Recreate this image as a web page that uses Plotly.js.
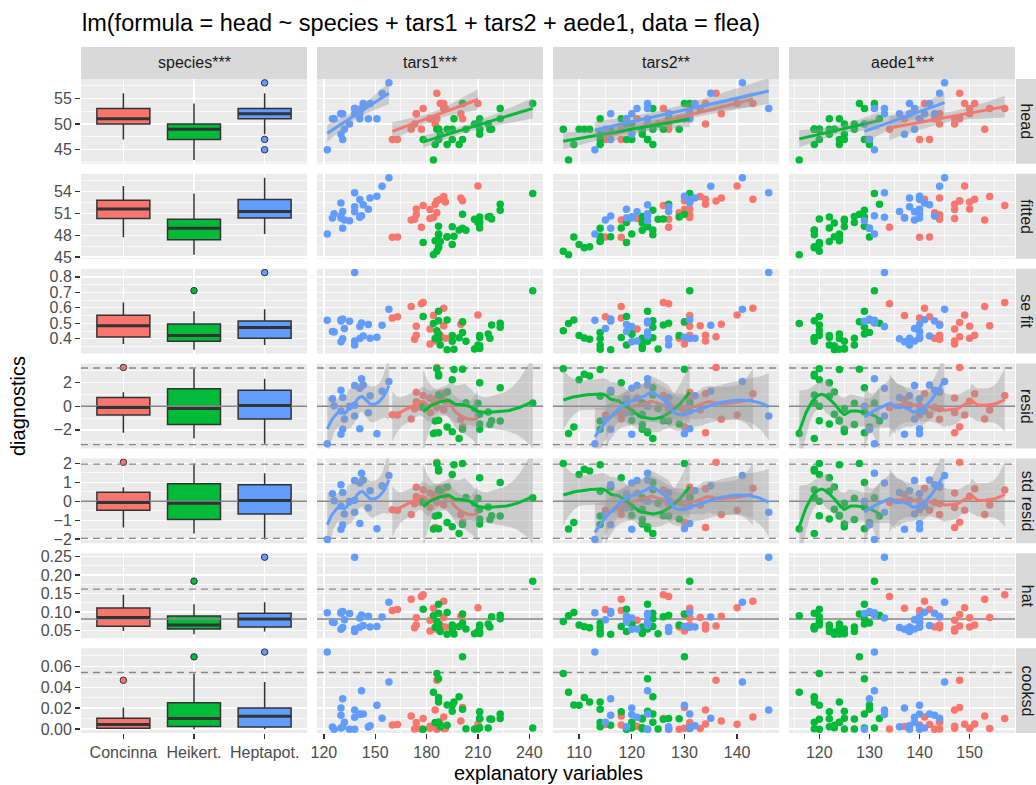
<!DOCTYPE html>
<html><head><meta charset="utf-8">
<script src="https://cdn.plot.ly/plotly-3.0.1.min.js"></script>
<style>body{margin:0;background:#fff}#chart{width:1036px;height:785px}</style>
</head><body><div id="chart"></div>
<script>
// ---------------- data (flea) ----------------
const speciesLevels = ['Concinna', 'Heikert.', 'Heptapot.'];
const speciesColors = ['#F8766D', '#00BA38', '#619CFF'];
const columnLabels = ['species***', 'tars1***', 'tars2**', 'aede1***'];
const rowLabels = ['head', 'fitted', 'se fit', 'resid', 'std resid', 'hat', 'cooksd'];

const species = [
 'Concinna','Concinna','Concinna','Concinna','Concinna','Concinna','Concinna','Concinna','Concinna','Concinna',
 'Concinna','Concinna','Concinna','Concinna','Concinna','Concinna','Concinna','Concinna','Concinna','Concinna','Concinna',
 'Heikert.','Heikert.','Heikert.','Heikert.','Heikert.','Heikert.','Heikert.','Heikert.','Heikert.','Heikert.',
 'Heikert.','Heikert.','Heikert.','Heikert.','Heikert.','Heikert.','Heikert.','Heikert.','Heikert.','Heikert.',
 'Heikert.','Heikert.','Heikert.','Heikert.','Heikert.','Heikert.','Heikert.','Heikert.','Heikert.','Heikert.','Heikert.',
 'Heptapot.','Heptapot.','Heptapot.','Heptapot.','Heptapot.','Heptapot.','Heptapot.','Heptapot.','Heptapot.','Heptapot.',
 'Heptapot.','Heptapot.','Heptapot.','Heptapot.','Heptapot.','Heptapot.','Heptapot.','Heptapot.','Heptapot.','Heptapot.','Heptapot.','Heptapot.'
];
const tars1 = [
 191,185,200,173,171,160,188,186,174,163,190,174,201,190,182,184,177,178,210,182,186,
 186,211,201,242,184,211,217,223,208,199,211,218,203,192,195,211,187,192,223,188,216,185,178,187,187,201,187,210,196,195,187,
 158,146,151,122,138,132,131,135,125,130,130,138,130,143,154,147,141,131,142,141,138,126
];
const tars2 = [
 131,134,137,127,118,118,134,129,131,115,143,131,130,133,130,131,127,126,140,121,136,
 107,122,114,131,108,118,122,127,125,124,129,126,122,116,123,122,123,109,124,114,120,114,119,111,112,130,120,119,114,110,124,
 141,119,130,113,121,115,127,123,119,120,131,127,116,123,135,132,131,116,123,120,146,123
];
const head = [
 53,50,52,50,49,47,54,51,52,47,54,52,51,53,51,51,49,53,54,51,56,
 49,49,47,54,43,51,49,51,50,46,49,49,49,49,47,48,47,46,53,48,50,46,47,49,49,54,47,50,51,49,49,
 58,51,51,45,53,49,52,50,51,48,52,52,52,54,56,54,51,47,53,52,53,51
];
const aede1 = [
 150,147,144,144,153,140,151,143,144,142,141,150,148,154,147,137,134,157,149,147,148,
 120,123,130,131,116,122,127,132,125,119,122,120,119,123,125,125,129,130,129,122,129,124,120,119,119,128,124,127,124,120,119,
 145,140,140,131,139,139,136,129,140,137,141,138,143,142,144,138,140,130,131,133,133,140
];

// ---------------- helpers ----------------
function invert(A) {
  const m = A.length;
  const M = A.map((row, i) => row.concat(A.map((_, j) => (i === j ? 1 : 0))));
  for (let c = 0; c < m; c++) {
    let piv = c;
    for (let r = c + 1; r < m; r++) if (Math.abs(M[r][c]) > Math.abs(M[piv][c])) piv = r;
    const tmp = M[c]; M[c] = M[piv]; M[piv] = tmp;
    const d = M[c][c];
    for (let j = 0; j < 2 * m; j++) M[c][j] /= d;
    for (let r = 0; r < m; r++) if (r !== c) {
      const f = M[r][c];
      if (f !== 0) for (let j = 0; j < 2 * m; j++) M[r][j] -= f * M[c][j];
    }
  }
  return M.map(row => row.slice(m));
}
function qt975(df) {
  const z = 1.959963985;
  const g1 = (z ** 3 + z) / 4;
  const g2 = (5 * z ** 5 + 16 * z ** 3 + 3 * z) / 96;
  const g3 = (3 * z ** 7 + 19 * z ** 5 + 17 * z ** 3 - 15 * z) / 384;
  const g4 = (79 * z ** 9 + 776 * z ** 7 + 1482 * z ** 5 - 1920 * z ** 3 - 945 * z) / 92160;
  return z + g1 / df + g2 / df ** 2 + g3 / df ** 3 + g4 / df ** 4;
}
function quantile7(arr, pr) {
  const s = arr.slice().sort((a, b) => a - b);
  const h = (s.length - 1) * pr, lo = Math.floor(h), hi = Math.ceil(h);
  return s[lo] + (h - lo) * (s[hi] - s[lo]);
}
function padRange(vals) {
  const mn = Math.min(...vals), mx = Math.max(...vals), e = (mx - mn) * 0.05;
  return [mn - e, mx + e];
}
function evalGrid(x) {
  const mn = Math.min(...x), mx = Math.max(...x), g = [];
  for (let i = 0; i < 80; i++) g.push(mn + (mx - mn) * i / 79);
  return g;
}
function lmSmooth(x, y) {
  const n = x.length;
  const xm = x.reduce((a, b) => a + b, 0) / n, ym = y.reduce((a, b) => a + b, 0) / n;
  let sxx = 0, sxy = 0;
  x.forEach((v, i) => { sxx += (v - xm) ** 2; sxy += (v - xm) * (y[i] - ym); });
  const b = sxy / sxx, a = ym - b * xm;
  let rss = 0; x.forEach((v, i) => { rss += (y[i] - a - b * v) ** 2; });
  const s = Math.sqrt(rss / (n - 2)), t = qt975(n - 2);
  const g = evalGrid(x);
  const fit = g.map(v => a + b * v);
  const se = g.map(v => s * Math.sqrt(1 / n + (v - xm) ** 2 / sxx));
  return { g, fit, lo: fit.map((f, i) => f - t * se[i]), hi: fit.map((f, i) => f + t * se[i]) };
}
function loessRow(x, x0, span) {
  const n = x.length, q = Math.floor(n * span);
  const d = x.map(v => Math.abs(v - x0));
  const ds = d.slice().sort((a, b) => a - b);
  let h = ds[q - 1]; if (h <= 0) h = 1e-6;
  h *= 1.000001;
  const w = d.map(di => { const u = di / h; return u < 1 ? Math.pow(1 - u * u * u, 3) : 0; });
  const S = [[0, 0, 0], [0, 0, 0], [0, 0, 0]];
  x.forEach((xj, j) => {
    const dx = xj - x0, bb = [1, dx, dx * dx];
    for (let a = 0; a < 3; a++) for (let c = 0; c < 3; c++) S[a][c] += w[j] * bb[a] * bb[c];
  });
  const Si = invert(S);
  return x.map((xj, j) => { const dx = xj - x0; return w[j] * (Si[0][0] + Si[0][1] * dx + Si[0][2] * dx * dx); });
}
function loessSmooth(x, y) {
  const n = x.length, span = 0.75;
  const L = x.map(x0 => loessRow(x, x0, span));
  const yhat = L.map(l => l.reduce((s, v, j) => s + v * y[j], 0));
  const IL = L.map((l, i) => l.map((v, j) => (i === j ? 1 : 0) - v));
  const A = IL.map((_, a) => IL.map((__, b) => { let s = 0; for (let i = 0; i < n; i++) s += IL[i][a] * IL[i][b]; return s; }));
  let one = 0, two = 0;
  for (let a = 0; a < n; a++) { one += A[a][a]; for (let b = 0; b < n; b++) two += A[a][b] * A[a][b]; }
  let rss = 0; y.forEach((v, i) => { rss += (v - yhat[i]) ** 2; });
  const s = Math.sqrt(rss / one), t = qt975(one * one / two);
  const g = evalGrid(x);
  const fit = [], lo = [], hi = [];
  g.forEach(x0 => {
    const l = loessRow(x, x0, span);
    const f = l.reduce((acc, v, j) => acc + v * y[j], 0);
    const se = s * Math.sqrt(l.reduce((acc, v) => acc + v * v, 0));
    fit.push(f); lo.push(f - t * se); hi.push(f + t * se);
  });
  return { g, fit, lo, hi };
}

// ---------------- linear model diagnostics ----------------
const n = head.length;
const spIdx = species.map(s => speciesLevels.indexOf(s));
const Xd = head.map((_, i) => [1, spIdx[i] === 1 ? 1 : 0, spIdx[i] === 2 ? 1 : 0, tars1[i], tars2[i], aede1[i]]);
const p = 6;
const XtX = Xd[0].map((_, a) => Xd[0].map((__, b) => Xd.reduce((s, row) => s + row[a] * row[b], 0)));
const Xty = Xd[0].map((_, a) => Xd.reduce((s, row, i) => s + row[a] * head[i], 0));
const XtXi = invert(XtX);
const beta = XtXi.map(row => row.reduce((s, v, j) => s + v * Xty[j], 0));
const fitted = Xd.map(row => row.reduce((s, v, j) => s + v * beta[j], 0));
const resid = head.map((v, i) => v - fitted[i]);
const sigma = Math.sqrt(resid.reduce((s, v) => s + v * v, 0) / (n - p));
const hat = Xd.map(row => { let s = 0; for (let a = 0; a < p; a++) for (let b = 0; b < p; b++) s += row[a] * XtXi[a][b] * row[b]; return s; });
const seFit = hat.map(h => sigma * Math.sqrt(h));
const stdResid = resid.map((r, i) => r / (sigma * Math.sqrt(1 - hat[i])));
const cooksd = stdResid.map((r, i) => r * r * hat[i] / (p * (1 - hat[i])));
const z975 = 1.959963985;

const rows = [
  { vals: head, dtick: 5, fmt: '', lines: [], smooth: 'lm' },
  { vals: fitted, dtick: 3, fmt: '', lines: [] },
  { vals: seFit, dtick: 0.1, fmt: '.1f', lines: [] },
  { vals: resid, dtick: 2, fmt: '', lines: [{ y: 0 }, { y: z975 * sigma, dash: 1 }, { y: -z975 * sigma, dash: 1 }], smooth: 'loess' },
  { vals: stdResid, dtick: 1, fmt: '', lines: [{ y: 0 }, { y: z975, dash: 1 }, { y: -z975, dash: 1 }], smooth: 'loess' },
  { vals: hat, dtick: 0.05, fmt: '.2f', lines: [{ y: p / n }, { y: 2 * p / n, dash: 1 }] },
  { vals: cooksd, dtick: 0.02, fmt: '.2f', lines: [{ y: 4 / n, dash: 1 }] }
];
const cols = [
  { x: null },
  { x: tars1, dtick: 30 },
  { x: tars2, dtick: 10 },
  { x: aede1, dtick: 10 }
];

// ---------------- geometry ----------------
const W = 1036, H = 785;
const colPx = [[81, 307], [317, 543], [553, 779], [789, 1015]];
const rowTop = 79, rowH = 84.86, rowStep = 94.86;
const px2x = v => v / W, px2y = v => 1 - v / H;

const traces = [];
const layout = {
  width: W, height: H, margin: { l: 0, r: 0, t: 0, b: 0 },
  paper_bgcolor: '#FFFFFF', plot_bgcolor: '#EBEBEB',
  showlegend: false, hovermode: false, boxmode: 'overlay',
  font: { family: 'Liberation Sans, Arial, sans-serif', size: 16, color: '#4D4D4D' },
  shapes: [], annotations: []
};
const ribbonFill = 'rgba(153,153,153,0.4)';

rows.forEach((row, r) => {
  const yExtra = row.lines.map(L => L.y);
  const yr = padRange(row.vals.concat(yExtra));
  const yTop = rowTop + r * rowStep, yBot = yTop + rowH;
  cols.forEach((col, c) => {
    const k = r * 4 + c + 1;
    const xa = 'x' + (k === 1 ? '' : k), ya = 'y' + (k === 1 ? '' : k);
    const xr = c === 0 ? [0.4, 3.6] : padRange(col.x);
    const xax = {
      type: 'linear', domain: [px2x(colPx[c][0]), px2x(colPx[c][1])], anchor: ya, range: xr,
      showgrid: true, gridcolor: '#FFFFFF', gridwidth: 1.4, zeroline: false, showline: false,
      ticks: r === 6 ? 'outside' : '', ticklen: 5, tickwidth: 1.4, tickcolor: '#333333',
      showticklabels: r === 6, tickfont: { size: 16, color: '#4D4D4D' }
    };
    if (c === 0) { xax.tickmode = 'array'; xax.tickvals = [1, 2, 3]; xax.ticktext = speciesLevels; }
    else {
      xax.tick0 = 0; xax.dtick = col.dtick;
      xax.minor = { tick0: 0, dtick: col.dtick / 2, showgrid: true, gridcolor: '#FFFFFF', gridwidth: 0.7, ticks: '' };
    }
    const yax = {
      type: 'linear', domain: [px2y(yBot), px2y(yTop)], anchor: xa, range: yr,
      showgrid: true, gridcolor: '#FFFFFF', gridwidth: 1.4, zeroline: false, showline: false,
      ticks: c === 0 ? 'outside' : '', ticklen: 5, tickwidth: 1.4, tickcolor: '#333333',
      showticklabels: c === 0, tickfont: { size: 16, color: '#4D4D4D' },
      tick0: 0, dtick: row.dtick, tickformat: row.fmt,
      minor: { tick0: 0, dtick: row.dtick / 2, showgrid: true, gridcolor: '#FFFFFF', gridwidth: 0.7, ticks: '' }
    };
    layout['xaxis' + (k === 1 ? '' : k)] = xax;
    layout['yaxis' + (k === 1 ? '' : k)] = yax;

    row.lines.forEach(L => traces.push({
      type: 'scatter', mode: 'lines', x: xr, y: [L.y, L.y], xaxis: xa, yaxis: ya, hoverinfo: 'skip',
      line: { color: '#888888', width: 1.4, dash: L.dash ? '7px,5px' : 'solid' }
    }));

    if (c === 0) {
      speciesLevels.forEach((s, si) => {
        const ys = row.vals.filter((_, i) => spIdx[i] === si);
        traces.push({
          type: 'box', x: ys.map(() => si + 1), y: ys, xaxis: xa, yaxis: ya, width: 0.75,
          quartilemethod: 'linear', boxpoints: 'outliers', whiskerwidth: 0,
          fillcolor: speciesColors[si], line: { color: '#333333', width: 1.5 },
          marker: { color: speciesColors[si], size: 6.5, line: { color: '#333333', width: 1 } },
          hoverinfo: 'skip'
        });
        const med = quantile7(ys, 0.5);
        traces.push({
          type: 'scatter', mode: 'lines', x: [si + 1 - 0.375, si + 1 + 0.375], y: [med, med],
          xaxis: xa, yaxis: ya, line: { color: '#333333', width: 3 }, hoverinfo: 'skip'
        });
      });
    } else {
      speciesLevels.forEach((s, si) => {
        const idx = spIdx.map((v, i) => (v === si ? i : -1)).filter(i => i >= 0);
        traces.push({
          type: 'scatter', mode: 'markers', x: idx.map(i => col.x[i]), y: idx.map(i => row.vals[i]),
          xaxis: xa, yaxis: ya, hoverinfo: 'skip',
          marker: { color: speciesColors[si], size: 7.5, line: { width: 0 } }
        });
      });
      if (row.smooth) {
        speciesLevels.forEach((s, si) => {
          const idx = spIdx.map((v, i) => (v === si ? i : -1)).filter(i => i >= 0);
          const gx = idx.map(i => col.x[i]), gy = idx.map(i => row.vals[i]);
          const sm = row.smooth === 'lm' ? lmSmooth(gx, gy) : loessSmooth(gx, gy);
          traces.push({
            type: 'scatter', mode: 'lines', xaxis: xa, yaxis: ya, hoverinfo: 'skip',
            x: sm.g.concat(sm.g.slice().reverse()), y: sm.hi.concat(sm.lo.slice().reverse()),
            fill: 'toself', fillcolor: ribbonFill, line: { width: 0 }
          });
          traces.push({
            type: 'scatter', mode: 'lines', xaxis: xa, yaxis: ya, hoverinfo: 'skip',
            x: sm.g, y: sm.fit, line: { color: speciesColors[si], width: 3 }
          });
        });
      }
    }
  });
  // right strip
  layout.shapes.push({ type: 'rect', xref: 'paper', yref: 'paper', x0: px2x(1016), x1: px2x(1050),
    y0: px2y(yBot), y1: px2y(yTop), fillcolor: '#D9D9D9', line: { width: 0 } });
  layout.annotations.push({ xref: 'paper', yref: 'paper', x: px2x(1027), y: px2y((yTop + yBot) / 2),
    text: rowLabels[r], textangle: 90, showarrow: false, xanchor: 'center', yanchor: 'middle',
    font: { size: 16, color: '#1A1A1A' } });
});

// top strips
columnLabels.forEach((lab, c) => {
  layout.shapes.push({ type: 'rect', xref: 'paper', yref: 'paper', x0: px2x(colPx[c][0]), x1: px2x(colPx[c][1]),
    y0: px2y(79), y1: px2y(47), fillcolor: '#D9D9D9', line: { width: 0 } });
  layout.annotations.push({ xref: 'paper', yref: 'paper', x: px2x((colPx[c][0] + colPx[c][1]) / 2), y: px2y(63),
    text: lab, showarrow: false, xanchor: 'center', yanchor: 'middle', font: { size: 16, color: '#1A1A1A' } });
});

// titles
layout.annotations.push({ xref: 'paper', yref: 'paper', x: px2x(80), y: px2y(23), xanchor: 'left', yanchor: 'middle',
  text: 'lm(formula = head ~ species + tars1 + tars2 + aede1, data = flea)', showarrow: false,
  font: { size: 23.5, color: '#000000' } });
layout.annotations.push({ xref: 'paper', yref: 'paper', x: px2x(548), y: px2y(773), xanchor: 'center', yanchor: 'middle',
  text: 'explanatory variables', showarrow: false, font: { size: 20, color: '#000000' } });
layout.annotations.push({ xref: 'paper', yref: 'paper', x: px2x(18), y: px2y(406), xanchor: 'center', yanchor: 'middle',
  text: 'diagnostics', textangle: -90, showarrow: false, font: { size: 20, color: '#000000' } });

Plotly.newPlot('chart', traces, layout, { staticPlot: true, displayModeBar: false });
</script>
</body></html>
